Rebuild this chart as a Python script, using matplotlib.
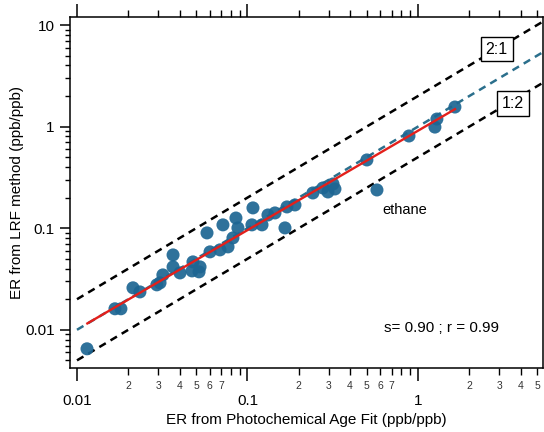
import numpy as np
import matplotlib
matplotlib.use("Agg")
import matplotlib.pyplot as plt
from matplotlib.ticker import LogLocator, FuncFormatter, NullFormatter

plt.rcParams['font.family'] = ['Liberation Sans', 'DejaVu Sans']

# Emission ratios: photochemical-age fit (x) vs LRF method (y), ppb/ppb
er_age_fit = [0.01145, 0.0167, 0.0181, 0.0213, 0.0234, 0.0294, 0.0307, 0.0319,
              0.0366, 0.0366, 0.0402, 0.0473, 0.0479, 0.0527, 0.0520, 0.0579,
              0.0603, 0.0690, 0.0718, 0.0769, 0.0822, 0.0856, 0.0879, 0.1062,
              0.1077, 0.1217, 0.1319, 0.1450, 0.1660, 0.1705, 0.1900, 0.2420,
              0.2770, 0.2966, 0.3175, 0.3260, 0.5020, 0.5750, 0.8860, 1.2920,
              1.2580, 1.6480]
er_lrf = [0.0065, 0.0161, 0.0161, 0.0259, 0.0236, 0.0277, 0.0290, 0.0347,
          0.0546, 0.0416, 0.0363, 0.0380, 0.0466, 0.0416, 0.0372, 0.0899,
          0.0585, 0.0612, 0.1079, 0.0655, 0.0803, 0.1260, 0.1007, 0.1079,
          0.1585, 0.1079, 0.1350, 0.1414, 0.1007, 0.1620, 0.1695, 0.2224,
          0.2490, 0.2275, 0.2727, 0.2435, 0.4700, 0.2380, 0.8090, 1.1880,
          0.9900, 1.5600]

# Linear fit result
fit_slope = 0.90
fit_intercept = 0.0012
fit_range = [0.0115, 1.65]
stats_text = "s= 0.90 ; r = 0.99"

# Reference lines: 1:1, 2:1, 1:2
ref_range = [0.01, 5.5]
ref_ratios = {"2:1": 2.0, "1:2": 0.5}

x_limits = (0.0091, 5.41)
y_limits = (0.0042, 12.0)

fig = plt.figure(figsize=(5.44, 4.32), dpi=100)
ax = fig.add_axes([0.1287, 0.148, 0.8693, 0.8126])
ax.set_xscale('log')
ax.set_yscale('log')
ax.set_xlim(*x_limits)
ax.set_ylim(*y_limits)

xr = np.array(ref_range)
ax.plot(xr, xr, color='#2b6f8c', lw=1.8, dashes=(3, 2.2), zorder=2)
for lbl, k in ref_ratios.items():
    ax.plot(xr, k * xr, color='black', lw=1.8, dashes=(3, 2.2), zorder=2)

ax.scatter(er_age_fit, er_lrf, s=88, color='#1d6693', alpha=0.92,
           edgecolors='none', zorder=3)

xf = np.array(fit_range)
ax.plot(xf, fit_slope * xf + fit_intercept, color='#e3201b', lw=1.7, zorder=4)

box = dict(boxstyle='square,pad=0.3', fc='white', ec='black', lw=1.0)
ax.text(2.9, 5.8, "2:1", fontsize=11.5, ha='center', va='center', bbox=box, zorder=5)
ax.text(3.6, 1.7, "1:2", fontsize=11.5, ha='center', va='center', bbox=box, zorder=5)
ax.text(0.615, 0.151, "ethane", fontsize=10.5, ha='left', va='center')
ax.text(0.786, 0.114, stats_text, fontsize=11, ha='center', va='center',
        transform=ax.transAxes)

# Axis ticks
ax.xaxis.set_major_locator(LogLocator(base=10, numticks=10))
ax.xaxis.set_minor_locator(LogLocator(base=10, subs=np.arange(2, 10), numticks=20))
ax.yaxis.set_major_locator(LogLocator(base=10, numticks=10))
ax.yaxis.set_minor_locator(LogLocator(base=10, subs=np.arange(2, 10), numticks=20))


def major_fmt(v, pos):
    return ('%g' % v)


def minor_fmt(v, pos):
    m = v / 10 ** np.floor(np.log10(v) + 1e-9)
    m = int(round(m))
    return str(m) if 2 <= m <= 7 else ''


ax.xaxis.set_major_formatter(FuncFormatter(major_fmt))
ax.xaxis.set_minor_formatter(FuncFormatter(minor_fmt))
ax.yaxis.set_major_formatter(FuncFormatter(major_fmt))
ax.yaxis.set_minor_formatter(NullFormatter())

ax.tick_params(axis='x', which='major', direction='out', length=9.4, width=1.1,
               labelsize=11, pad=9, top=True, labeltop=False)
ax.tick_params(axis='x', which='minor', direction='out', length=5, width=1.0,
               labelsize=7.5, pad=4, top=True, labeltop=False, colors='black')
ax.tick_params(axis='y', which='major', direction='out', length=7, width=1.1,
               labelsize=11, pad=4, right=False)
ax.tick_params(axis='y', which='minor', direction='out', length=3.5, width=1.0,
               right=False)
for lab in ax.get_xticklabels(minor=True):
    lab.set_color('#333333')

for sp in ax.spines.values():
    sp.set_linewidth(1.1)

ax.set_xlabel("ER from Photochemical Age Fit (ppb/ppb)", fontsize=11, labelpad=4)
ax.set_ylabel("ER from LRF method (ppb/ppb)", fontsize=11, labelpad=1)

fig.savefig("out.png", dpi=100)
